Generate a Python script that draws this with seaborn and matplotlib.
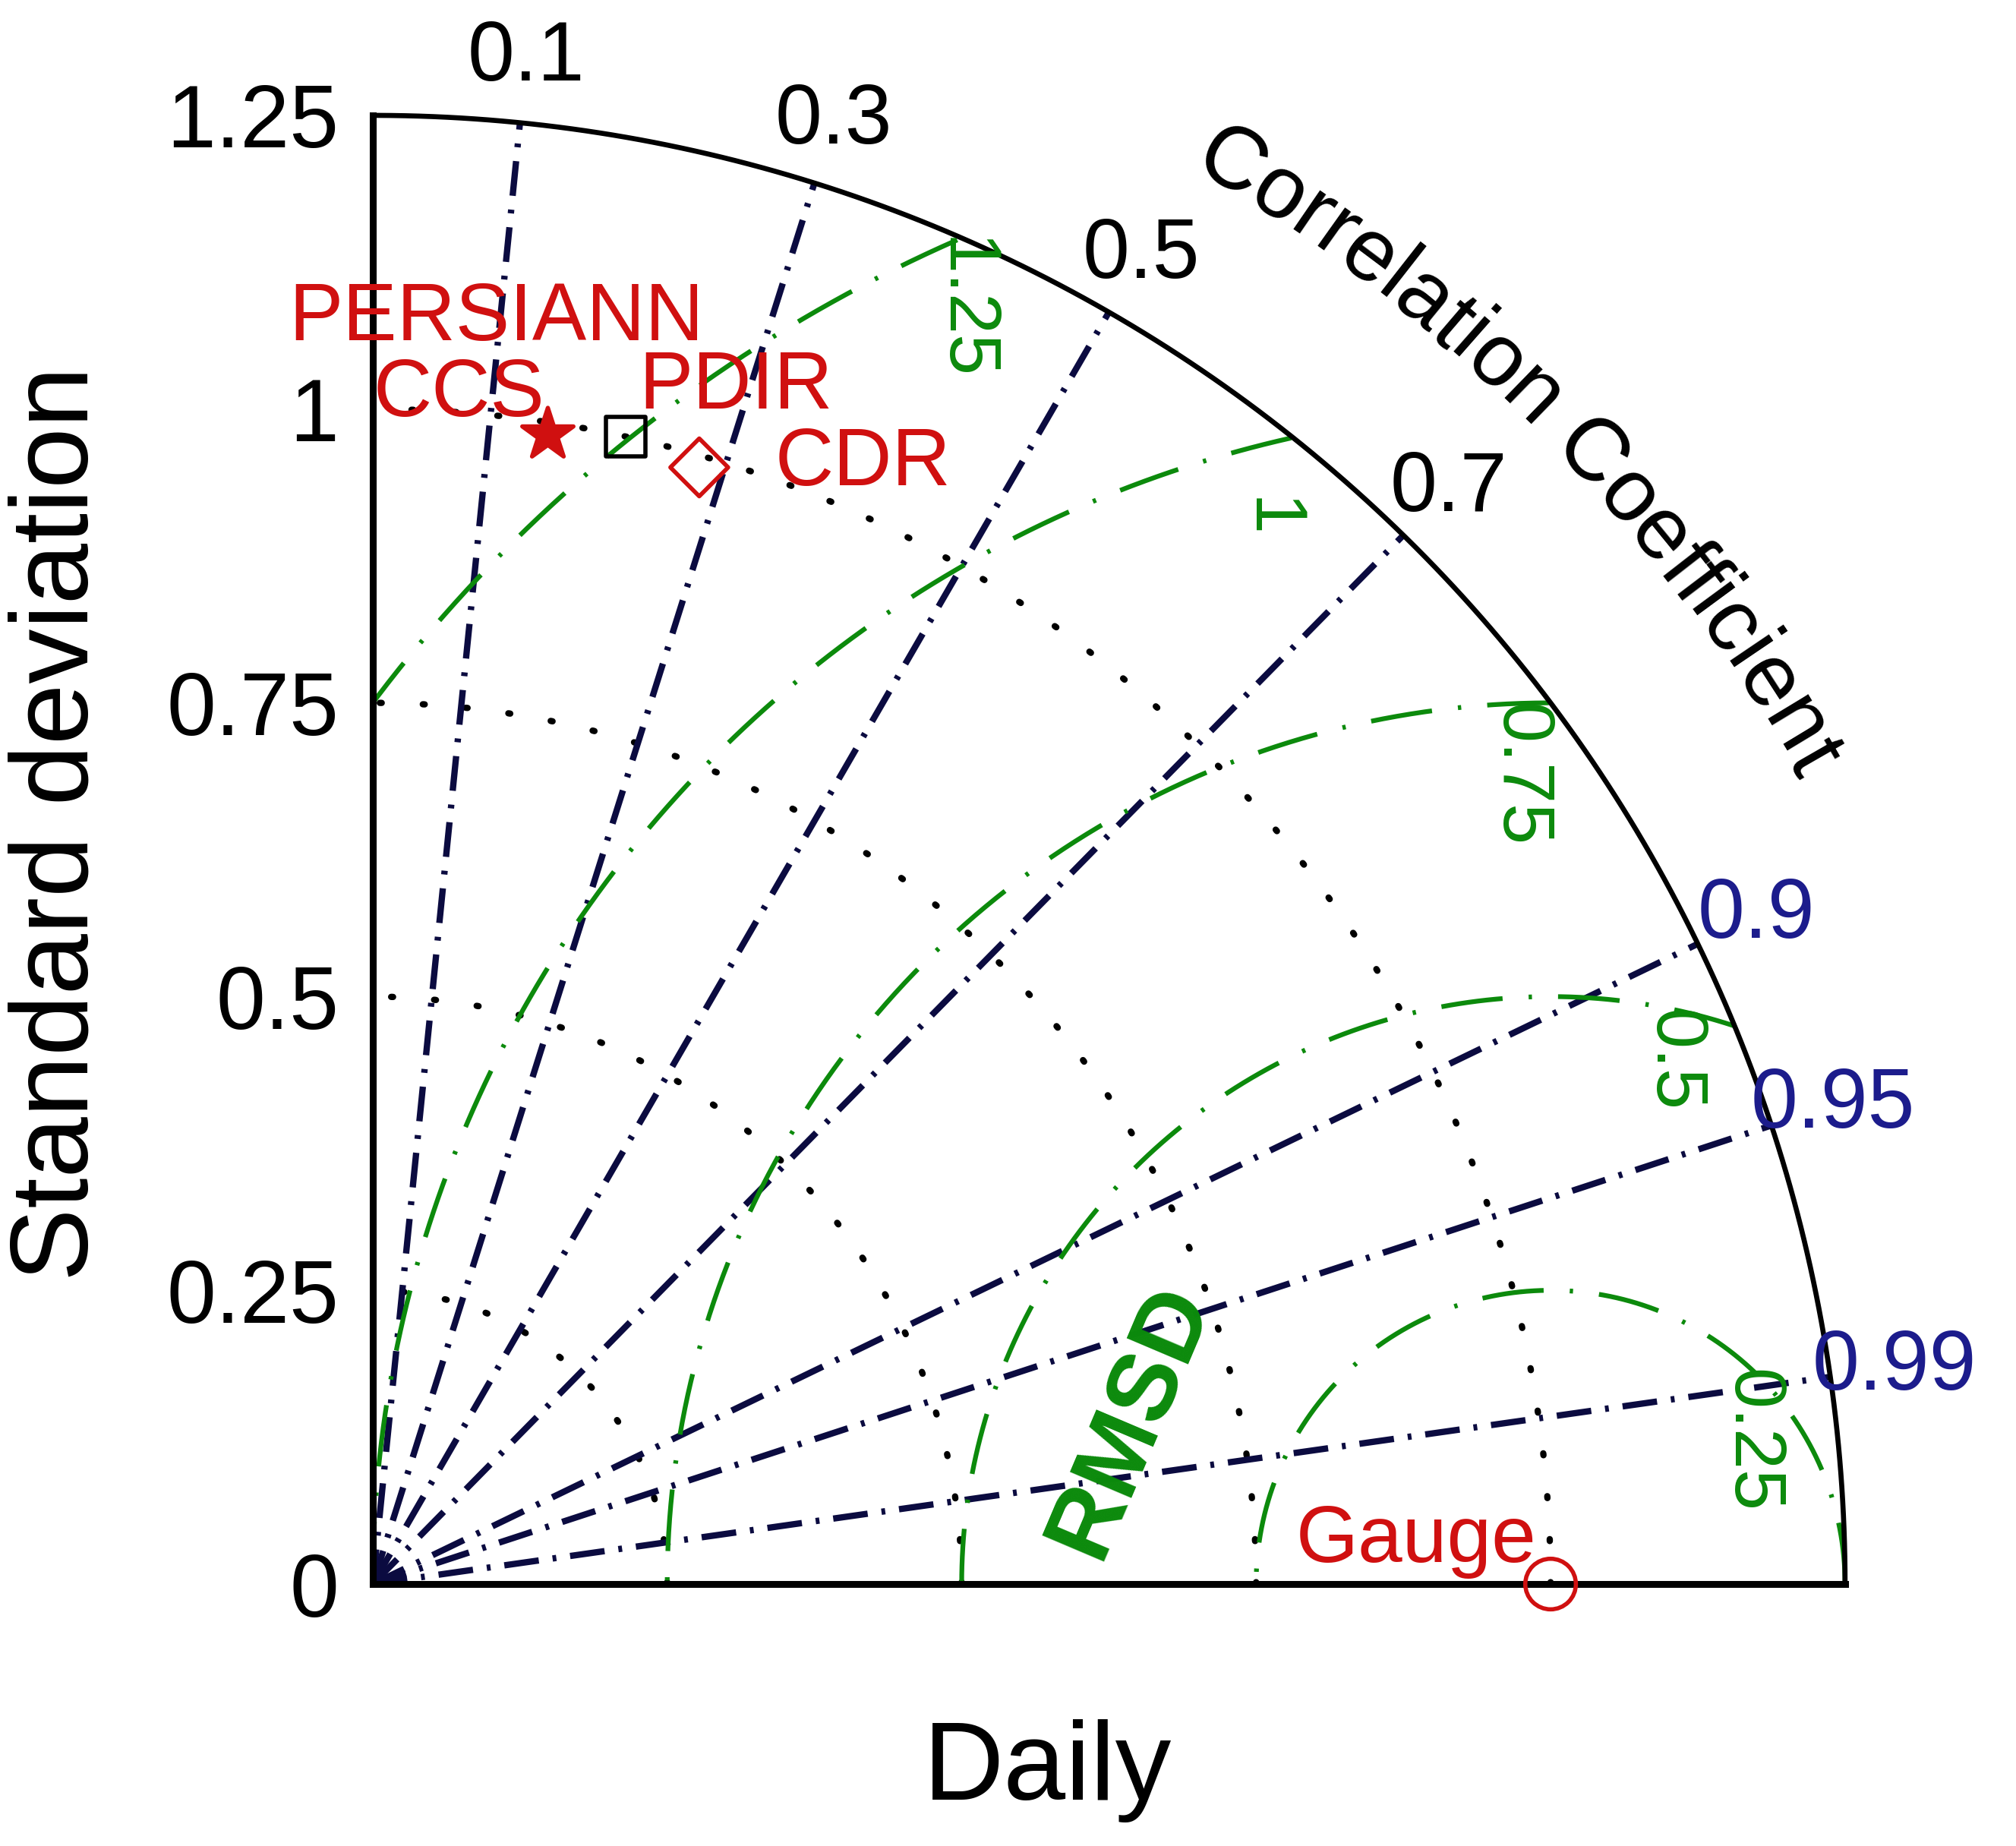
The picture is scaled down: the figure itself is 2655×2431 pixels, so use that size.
import numpy as np
import pandas as pd
import matplotlib
matplotlib.use('Agg')
import matplotlib.pyplot as plt
import seaborn as sns
from matplotlib.font_manager import FontProperties

# ---- data ----
models = ['PERSIANN CCS', 'PDIR', 'CDR', 'Gauge']
model_std = [0.99, 1.00, 0.99, 1.00]
model_corr = [0.15, 0.215, 0.28, 1.00]

std_ticks = [0, 0.25, 0.5, 0.75, 1, 1.25]
std_tick_labels = ['0', '0.25', '0.5', '0.75', '1', '1.25']
std_arcs = [0.25, 0.5, 0.75, 1.0]
corr_ticks = [0.1, 0.3, 0.5, 0.7, 0.9, 0.95, 0.99]
corr_tick_labels = ['0.1', '0.3', '0.5', '0.7', '0.9', '0.95', '0.99']
rms_levels = [0.25, 0.5, 0.75, 1.0, 1.25]
rms_labels = ['0.25', '0.5', '0.75', '1', '1.25']

# ---- style ----
sns.set_theme(style='white')
plt.rcParams['font.family'] = ['Liberation Sans', 'DejaVu Sans']

ref_std = 1.0
smax = std_ticks[-1]
navy = '#0b0b40'
blue = '#1c1c8c'
green = '#0c8a0c'
red = '#d01010'

fig = plt.figure(figsize=(26.55, 24.31), dpi=100)
ax = fig.add_axes([0.1849, 0.1419, 0.7303, 0.7956])
ax.set_xlim(0, smax)
ax.set_ylim(0, smax)

th = np.linspace(0, np.pi / 2, 500)

# outer arc
ax.plot(smax * np.cos(th), smax * np.sin(th), color='black', lw=4.8, clip_on=False, zorder=3)

# std arcs (dotted)
for s in std_arcs:
    ax.plot(s * np.cos(th), s * np.sin(th), color='black', lw=6,
            ls=(0, (0.3, 6.5)), dash_capstyle='round', zorder=2)

# correlation rays (dash-dot)
for c, lab in zip(corr_ticks, corr_tick_labels):
    a = np.arccos(c)
    ax.plot([0, smax * np.cos(a)], [0, smax * np.sin(a)], color=navy, lw=6,
            ls=(0, (5.5, 2.2, 0.6, 2.2)), zorder=2)
    col = blue if c >= 0.9 else 'black'
    ax.text(smax * 1.044 * np.cos(a), smax * 1.044 * np.sin(a), lab, fontsize=80,
            color=col, ha='center', va='center')

# RMSD arcs centred on the reference
rms_label_angles = [47, 78, 92, 104.5, 113.5]
rms_label_shift = [0, 0, 0, -0.045, 0]
tt = np.linspace(0, np.pi, 800)
for r, lab, ang, dr in zip(rms_levels, rms_labels, rms_label_angles, rms_label_shift):
    x = ref_std + r * np.cos(tt)
    y = r * np.sin(tt)
    keep = (x >= 0) & (x ** 2 + y ** 2 <= smax ** 2)
    ax.plot(np.where(keep, x, np.nan), np.where(keep, y, np.nan), color=green,
            lw=4.5, ls=(0, (13, 5.5, 0.7, 5.5)), zorder=2)
    ar = np.deg2rad(ang)
    ax.text(ref_std + (r + dr) * np.cos(ar), (r + dr) * np.sin(ar), lab, fontsize=70,
            color=green, rotation=-90, ha='center', va='top')

ax.text(0.644, 0.139, 'RMSD', fontsize=92, color=green, fontweight='bold',
        rotation=67, ha='center', va='center')

# points
df = pd.DataFrame({'model': models, 'std': model_std, 'corr': model_corr})
df['x'] = df['std'] * df['corr']
df['y'] = df['std'] * np.sqrt(1 - df['corr'] ** 2)

marker_style = {
    'PERSIANN CCS': dict(marker='*', s=2600, color=red, hollow=False),
    'PDIR': dict(marker='s', s=1400, color='black', hollow=True),
    'CDR': dict(marker='D', s=1500, color=red, hollow=True),
    'Gauge': dict(marker='o', s=2300, color=red, hollow=True),
}
for name, st in marker_style.items():
    sub = df[df['model'] == name]
    sns.scatterplot(data=sub, x='x', y='y', marker=st['marker'], s=st['s'],
                    color=st['color'], linewidth=4, ax=ax, zorder=6, legend=False)
    pts = ax.collections[-1]
    pts.set_clip_on(False)
    pts.set_edgecolor(st['color'])
    if st['hollow']:
        pts.set_facecolor('none')

# point labels (offsets from their markers)
pt = df.set_index('model')
lab_kw = dict(fontsize=77, color=red, ha='left', va='baseline')
ax.text(pt.loc['PERSIANN CCS', 'x'] - 0.220, pt.loc['PERSIANN CCS', 'y'] + 0.080, 'PERSIANN', **lab_kw)
ax.text(pt.loc['PERSIANN CCS', 'x'] - 0.148, pt.loc['PERSIANN CCS', 'y'] + 0.015, 'CCS', **lab_kw)
ax.text(pt.loc['PDIR', 'x'] + 0.011, pt.loc['PDIR', 'y'] + 0.024, 'PDIR', **lab_kw)
ax.text(pt.loc['CDR', 'x'] + 0.064, pt.loc['CDR', 'y'] - 0.015, 'CDR', **lab_kw)
ax.text(pt.loc['Gauge', 'x'] - 0.216, pt.loc['Gauge', 'y'] + 0.019, 'Gauge',
        fontsize=76, color=red, ha='left', va='baseline')

# axes: only left and bottom lines
for side in ['top', 'right']:
    ax.spines[side].set_visible(False)
for side in ['left', 'bottom']:
    ax.spines[side].set_linewidth(6.5)
    ax.spines[side].set_color('black')
ax.set_xticks([])
ax.set_yticks(std_ticks)
ax.set_yticklabels(std_tick_labels, fontsize=84)
ax.tick_params(axis='y', length=0, pad=32, labelcolor='black')
ax.set_xlabel('Daily', fontsize=106, color='black')
ax.xaxis.set_label_coords(0.4585, -0.092)
ax.set_ylabel('Standard deviation', fontsize=104, color='black')
ax.yaxis.set_label_coords(-0.178, 0.518)
ax.grid(False)

# curved "Correlation Coefficient" title along the outer arc
title = 'Correlation Coefficient'
fs = 84
fig.canvas.draw()
rend = fig.canvas.get_renderer()
prop = FontProperties(family=['Liberation Sans', 'DejaVu Sans'], size=fs)
centers = []
for i, ch in enumerate(title):
    w_pref = rend.get_text_width_height_descent(title[:i + 1], prop, ismath=False)[0]
    w_ch = rend.get_text_width_height_descent(ch, prop, ismath=False)[0]
    centers.append(w_pref - w_ch / 2)
total = rend.get_text_width_height_descent(title, prop, ismath=False)[0]
px_per_unit = ax.get_window_extent().width / smax
R = 1.39
mid = np.deg2rad(44.75)
for ch, cpx in zip(title, centers):
    if ch == ' ':
        continue
    phi = mid - (cpx - total / 2) / (R * px_per_unit)
    ax.text(R * np.cos(phi), R * np.sin(phi), ch, fontsize=fs, color='black',
            rotation=np.rad2deg(phi) - 90, rotation_mode='anchor',
            ha='center', va='baseline')

fig.savefig('out.png', dpi=100, facecolor='white')
